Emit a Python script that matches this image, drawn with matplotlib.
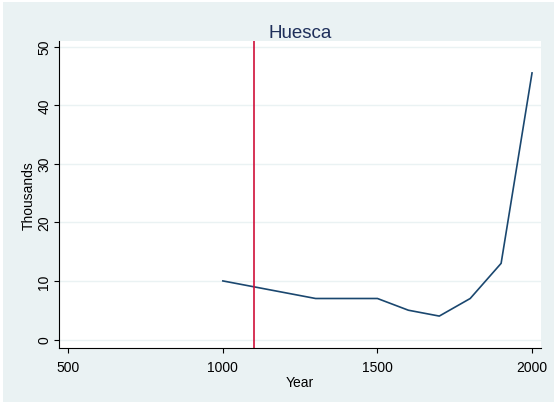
import matplotlib
matplotlib.use("Agg")
import matplotlib.pyplot as plt
from matplotlib.patches import Rectangle

years = [1000, 1100, 1200, 1300, 1400, 1500, 1600, 1700, 1800, 1900, 2000]
thousands = [10, 9, 8, 7, 7, 7, 5, 4, 7, 13, 45.5]
marker_year = 1100
xticks = [500, 1000, 1500, 2000]
yticks = [0, 10, 20, 30, 40, 50]
title = "Huesca"

plt.rcParams['font.family'] = ['Liberation Sans', 'DejaVu Sans']

W, H = 554, 406
fig = plt.figure(figsize=(W / 100, H / 100), dpi=100)
fig.patch.set_facecolor('white')
bg = '#EAF2F3'
fig.patches.append(Rectangle((3 / W, 3 / H), 1 - 3 / W, 1 - 6 / H,
                             transform=fig.transFigure, facecolor=bg,
                             edgecolor='none', zorder=-10))

ax = fig.add_axes([59 / W, 1 - 349.3 / H, (541 - 59) / W, (349.3 - 41.7) / H])
ax.set_facecolor('white')
ax.plot(years, thousands, color='#1a476f', lw=1.2)
ax.axvline(marker_year, color='#d0103a', lw=1.2)

ax.set_xlim(470, 2029)
ax.set_ylim(-1.5, 51)
ax.set_xticks(xticks)
ax.set_yticks(yticks)
ax.set_yticklabels([str(v) for v in yticks], rotation=90, va='center')
ax.tick_params(axis='both', labelsize=10, length=3.5, width=0.8, color='black',
               direction='out')
ax.tick_params(axis='x', pad=5)
ax.tick_params(axis='y', pad=2)
for y in yticks:
    ax.axhline(y, color=bg, lw=1.0, zorder=0.5)
for s in ['top', 'right']:
    ax.spines[s].set_visible(False)
for s in ['left', 'bottom']:
    ax.spines[s].set_linewidth(0.8)
ax.set_xlabel('Year', fontsize=10, labelpad=1)
ax.set_ylabel('Thousands', fontsize=10, labelpad=1)
ax.set_title(title, fontsize=13.5, color='#1e2f5a', pad=2)

fig.savefig('out.png', dpi=100, facecolor=fig.get_facecolor())
